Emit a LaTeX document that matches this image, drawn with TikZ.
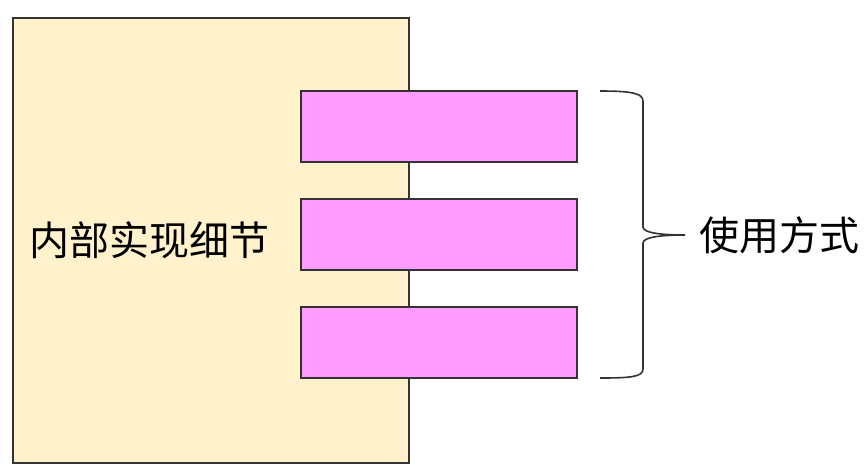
\documentclass[tikz,border=0pt]{standalone}
\usepackage{fontspec}
\newfontfamily\cjk{Noto Sans CJK SC}
\definecolor{beige}{HTML}{FFF2CC}
\definecolor{pinkbox}{HTML}{FF9CFF}
\definecolor{edge}{HTML}{333333}
\tikzset{
  outer/.style={draw=edge, line width=1.2pt, fill=beige},
  part/.style={draw=edge, line width=1.1pt, fill=pinkbox},
  label/.style={font=\cjk\fontsize{40}{42}\selectfont, text=black, inner sep=0pt},
  bracepath/.style={draw=edge, line width=1.6pt}
}
\begin{document}
\begin{tikzpicture}[x=1pt,y=-1pt]
\useasboundingbox (0,0) rectangle (867,474);
\fill[white] (0,0) rectangle (867,474);
\draw[outer] (13,18) rectangle (409,463);
\node[label, anchor=west] (inner) at (29,240) {内部实现细节};
\draw[part] (301,91) rectangle (577,162);
\draw[part] (301,199) rectangle (577,270);
\draw[part] (301,307) rectangle (577,378);
\coordinate (btop) at (600,91);
\coordinate (btip) at (685,235);
\coordinate (bbot) at (600,378);
\draw[bracepath] (btop) .. controls (630,91) and (643,93) .. (643,101) -- (643,227)
  .. controls (643,233) and (662,235) .. (btip)
  .. controls (662,235) and (643,237) .. (643,243) -- (643,369)
  .. controls (643,377) and (630,378) .. (bbot);
\node[label, anchor=west] (usage) at (699,235) {使用方式};
\end{tikzpicture}
\end{document}
